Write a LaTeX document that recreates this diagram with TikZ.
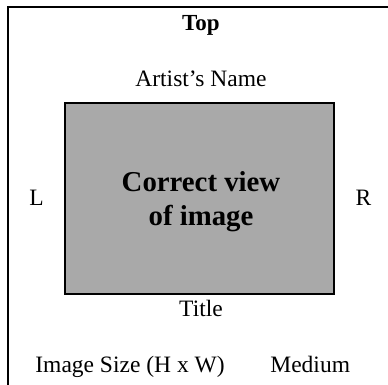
\documentclass[tikz,border=0pt]{standalone}
\usepackage{fontspec}
\setmainfont{Liberation Serif}
\definecolor{imggray}{HTML}{A9A9A9}
\tikzset{
    framethick/.style={draw=black,line width=1pt},
    lbltxt/.style={inner sep=0pt,anchor=base,font=\fontsize{11.75}{14}\selectfont},
    lblbold/.style={inner sep=0pt,anchor=base,font=\fontsize{11.5}{14}\selectfont\bfseries},
    recgry/.style={draw=black,line width=1pt,fill=imggray,minimum width=134.3pt,minimum height=95.3pt,inner sep=0pt},
    imgtxt/.style={align=center,inner sep=0pt,font=\fontsize{14.4}{17}\selectfont\bfseries}
}
\begin{document}
\begin{tikzpicture}[x=.5pt,y=-.5pt]
        \useasboundingbox (0,0) rectangle (388,385);
        % Page frame
        \coordinate (framebl) at (8,390);
        \coordinate (frametl) at (8,6.7);
        \coordinate (frametr) at (395,6.7);
        \draw[framethick] (framebl) -- (frametl) -- (frametr);

        % Image box
        \node[recgry] (imgoutline) at (199.7,198.3) {};
        \node[imgtxt] (imgtitle) at (201,201.3) {Correct view\\of image};

        % Labels round the image
        \node[lblbold] (toplbl) at (201,31) {Top};
        \node[lbltxt] (artistlbl) at (201,87) {Artist’s Name};
        \node[lbltxt] (leftlbl) at (36.5,206) {L};
        \node[lbltxt] (rightlbl) at (363.5,206) {R};
        \node[lbltxt] (titlelbl) at (201,317) {Title};
        \node[lbltxt,anchor=base west] (sizelbl) at (35,373) {Image Size (H x W)};
        \node[lbltxt,anchor=base west] (mediumlbl) at (270,373) {Medium};
    \end{tikzpicture}
\end{document}
